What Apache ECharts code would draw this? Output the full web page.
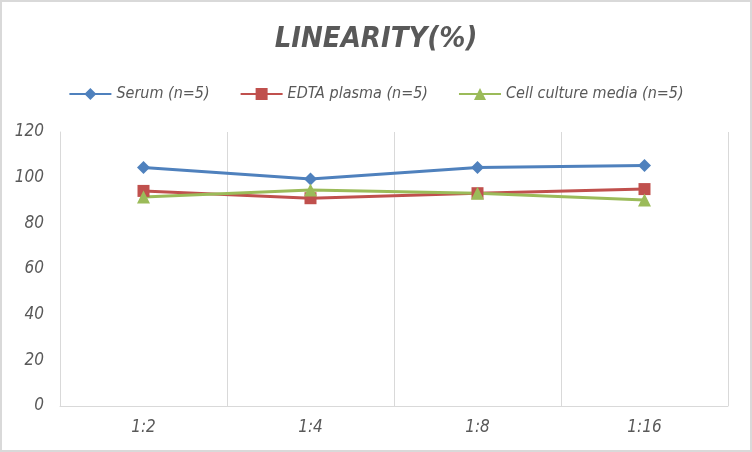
<!DOCTYPE html>
<html>
<head>
<meta charset="utf-8">
<script src="https://cdn.jsdelivr.net/npm/echarts@6/dist/echarts.min.js"></script>
<style>
html, body { margin: 0; padding: 0; background: #fff; }
#lineChart { width: 752px; height: 452px; box-sizing: border-box; border: 2px solid #d9d9d9; }
</style>
</head>
<body>
<div id="lineChart"></div>
<script>
var categories = ['1:2', '1:4', '1:8', '1:16'];
var serumValues = [104.4, 99.4, 104.4, 105.3];
var edtaValues = [94.2, 91, 93.2, 95];
var cellValues = [91.5, 94.6, 93.2, 90.2];
var yTicks = [0, 20, 40, 60, 80, 100, 120];

var font = '"Liberation Sans Narrow", "DejaVu Sans Condensed", "Open Sans", sans-serif';
var myChart = echarts.init(document.getElementById('lineChart'));
var option = {
    backgroundColor: '#fff',
    textStyle: { fontFamily: font },
    title: {
        text: 'LINEARITY(%)',
        left: 'center',
        top: 18,
        textStyle: { fontSize: 29, fontWeight: 'bold', fontStyle: 'italic', color: '#595959', fontFamily: font }
    },
    legend: {
        top: 79,
        left: 'center',
        itemGap: 30,
        itemWidth: 42,
        itemHeight: 15,
        textStyle: { fontSize: 16, fontStyle: 'italic', color: '#595959', fontFamily: font },
        data: ['Serum (n=5)', 'EDTA plasma (n=5)', 'Cell culture media (n=5)']
    },
    grid: { left: 58, right: 22, top: 130, bottom: 44 },
    xAxis: {
        type: 'category',
        data: categories,
        boundaryGap: true,
        axisTick: { show: false },
        axisLine: { lineStyle: { color: '#d9d9d9' } },
        splitLine: { show: true, lineStyle: { color: '#d9d9d9' } },
        axisLabel: { fontSize: 17, fontStyle: 'italic', color: '#595959', margin: 13 }
    },
    yAxis: {
        type: 'value',
        min: yTicks[0],
        max: yTicks[yTicks.length - 1],
        interval: 20,
        axisLine: { show: true, lineStyle: { color: '#d9d9d9' } },
        axisTick: { show: false },
        splitLine: { show: false },
        axisLabel: { fontSize: 17, fontStyle: 'italic', color: '#595959', margin: 16 }
    },
    series: [
        {
            name: 'Serum (n=5)',
            type: 'line',
            data: serumValues,
            symbol: 'diamond',
            symbolSize: 13,
            itemStyle: { color: '#4f81bd' },
            lineStyle: { width: 3, color: '#4f81bd' }
        },
        {
            name: 'EDTA plasma (n=5)',
            type: 'line',
            data: edtaValues,
            symbol: 'rect',
            symbolSize: 12,
            itemStyle: { color: '#c0504d' },
            lineStyle: { width: 3, color: '#c0504d' }
        },
        {
            name: 'Cell culture media (n=5)',
            type: 'line',
            data: cellValues,
            symbol: 'triangle',
            symbolSize: 13,
            itemStyle: { color: '#9bbb59' },
            lineStyle: { width: 3, color: '#9bbb59' }
        }
    ]
};
myChart.setOption(option);
</script>
</body>
</html>
